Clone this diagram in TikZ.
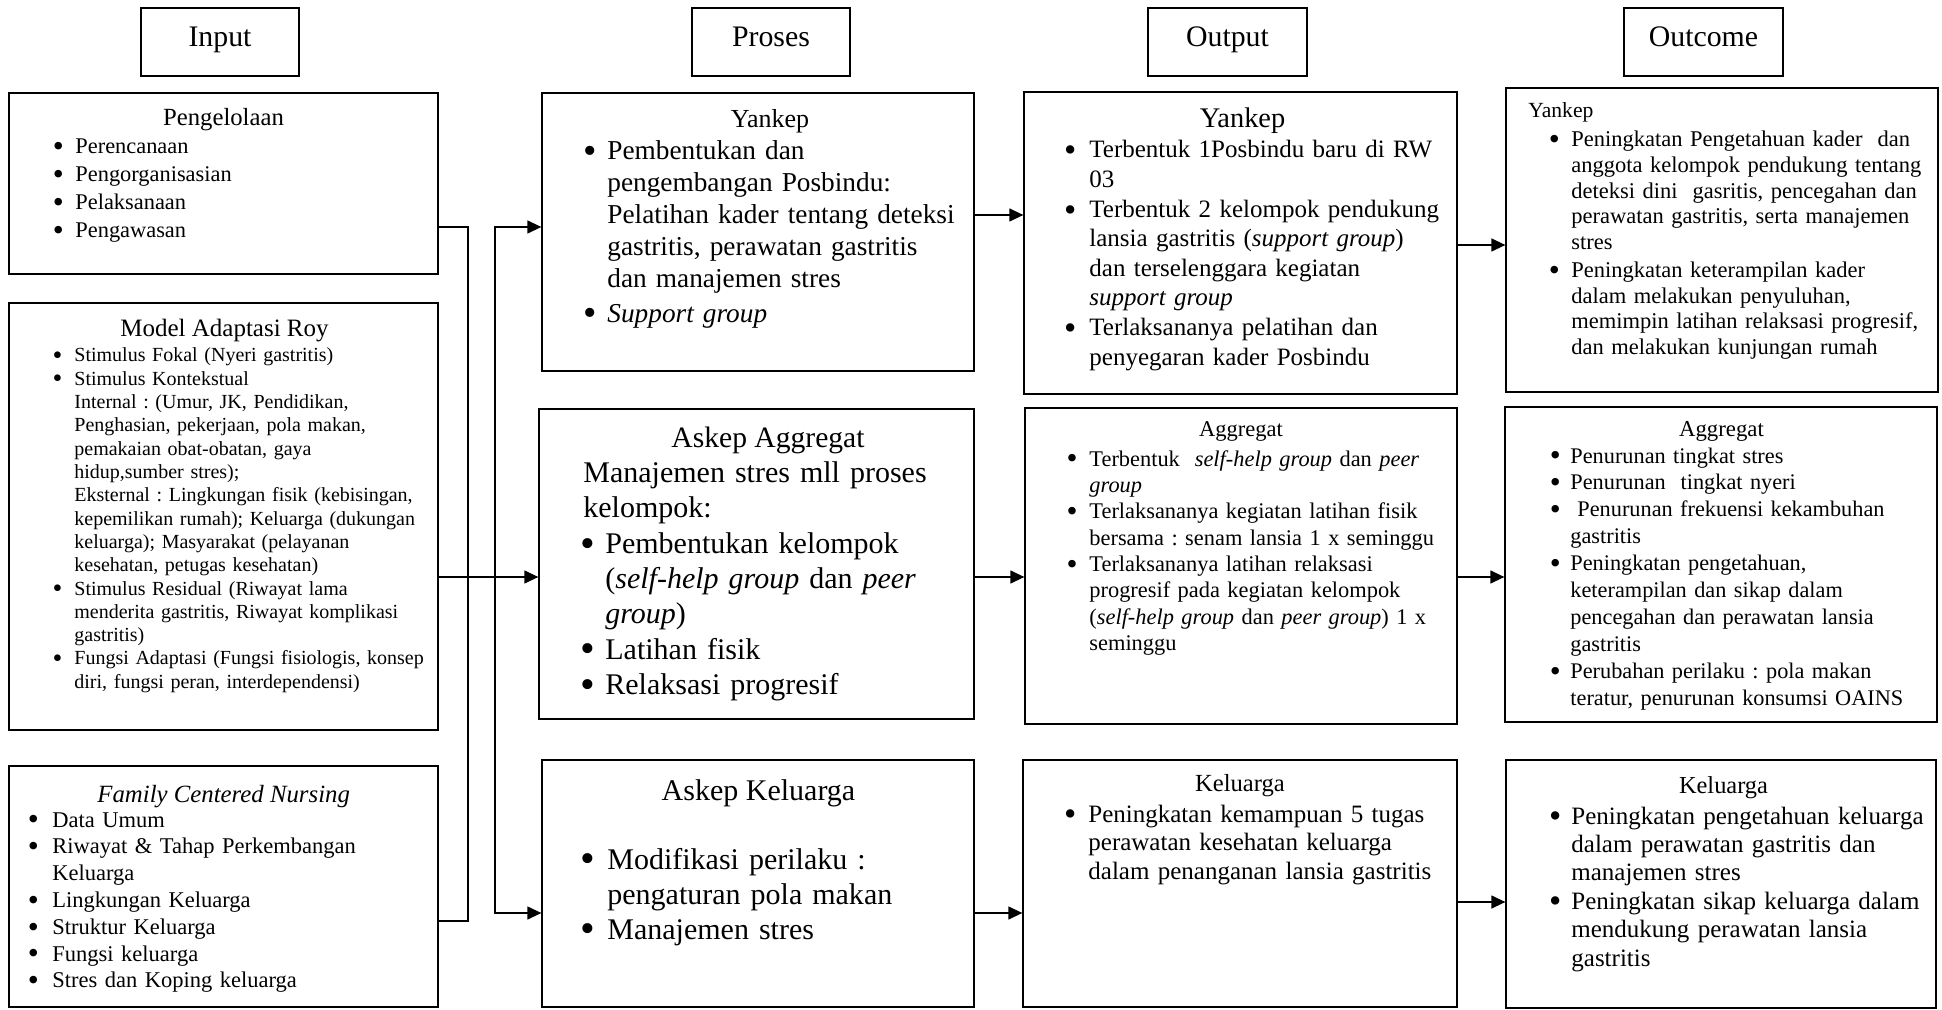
\documentclass[tikz,border=0pt]{standalone}
\usepackage{fontspec}
\usepackage{graphicx}
\setmainfont{Liberation Serif}
\usetikzlibrary{arrows.meta,fit}

\newcommand{\setfs}[2]{\fontsize{#1}{#2}\selectfont}
% bullet items: \bset{label sep}{item sep}, then \itm before each item
\newlength{\bulsep}
\newcommand{\bset}[2]{\setlength{\bulsep}{#1}\setlength{\parskip}{#2}}
\newcommand{\itm}{\leavevmode\llap{\raisebox{-0.13em}{\scalebox{1.4}{\textbullet}}\hspace{\bulsep}}}
\frenchspacing

\begin{document}
\begin{tikzpicture}[x=0.5pt,y=-0.5pt,
  box/.style={draw,line width=0.65pt,inner sep=0pt},
  ttl/.style={inner sep=0pt,anchor=base},
  body/.style={inner sep=0pt,anchor=base west,text width=220pt,align=left},
  link/.style={line width=0.65pt,line cap=rect},
  arr/.style={line width=0.65pt,-{Triangle[length=7pt,width=6.5pt]}}]
\useasboundingbox (0,0) rectangle (1942,1010);

% column headers
\foreach \nm/\xa/\xb/\lbl in {hin/141/299/Input,hpr/692/850/Proses,hout/1148/1307/Output,hoc/1624/1783/Outcome}{
  \node[box,fit={(\xa,8) (\xb,76)}] (\nm) {};
  \node[ttl,font=\setfs{14.9}{17}] (\nm-t) at ({(\xa+\xb)/2},47) {\lbl};
}

% input
\node[box,fit={(9,93) (438,274)}] (pgl) {};
\node[ttl,font=\setfs{12.35}{14}] (pgl-t) at (223.5,126) {Pengelolaan};
\node[body,font=\setfs{11.2}{13.85}] (pgl-b) at (75,154) {\bset{5.8pt}{0pt}%
  \itm Perencanaan\par
  \itm Pengorganisasian\par
  \itm Pelaksanaan\par
  \itm Pengawasan};

\node[box,fit={(9,303) (438,730)}] (roy) {};
\node[ttl,font=\setfs{12.5}{14}] (roy-t) at (224.5,336) {Model Adaptasi Roy};
\node[body,font=\setfs{10}{11.65}] (roy-b) at (74,362) {\bset{6pt}{0pt}%
  \itm Stimulus Fokal (Nyeri gastritis)\par
  \itm Stimulus Kontekstual\\ Internal : (Umur, JK, Pendidikan,\\ Penghasian, pekerjaan, pola makan,\\
    pemakaian obat-obatan, gaya\\ hidup,sumber stres);\\ Eksternal : Lingkungan fisik (kebisingan,\\
    kepemilikan rumah); Keluarga (dukungan\\ keluarga); Masyarakat (pelayanan\\ kesehatan, petugas kesehatan)\par
  \itm Stimulus Residual (Riwayat lama\\ menderita gastritis, Riwayat komplikasi\\ gastritis)\par
  \itm Fungsi Adaptasi (Fungsi fisiologis, konsep\\ diri, fungsi peran, interdependensi)};

\node[box,fit={(9,766) (438,1007)}] (fcn) {};
\node[ttl,font=\setfs{12.4}{14}\itshape] (fcn-t) at (223.7,802) {Family Centered Nursing};
\node[body,font=\setfs{11.25}{13.4}] (fcn-b) at (52,827) {\bset{6.8pt}{0pt}%
  \itm Data Umum\par
  \itm Riwayat \& Tahap Perkembangan\\ Keluarga\par
  \itm Lingkungan Keluarga\par
  \itm Struktur Keluarga\par
  \itm Fungsi keluarga\par
  \itm Stres dan Koping keluarga};

% proses
\node[box,fit={(542,93) (974,371)}] (pyk) {};
\node[ttl,font=\setfs{13}{15}] (pyk-t) at (770,128) {Yankep};
\node[body,font=\setfs{13.65}{15.9}] (pyk-b) at (607,160) {\bset{5.3pt}{1.6pt}%
  \itm Pembentukan dan\\ pengembangan Posbindu:\\ Pelatihan kader tentang deteksi\\ gastritis, perawatan gastritis\\ dan manajemen stres\par
  \itm \textit{Support group}};

\node[box,fit={(539,409) (974,719)}] (pag) {};
\node[ttl,font=\setfs{14.8}{17}] (pag-t) at (768,447) {Askep Aggregat};
\node[body,font=\setfs{15}{17.65}] (pag-b) at (605,482.5) {\bset{5pt}{0pt}%
  {\leftskip=-11pt Manajemen stres mll proses\\ kelompok:\par}
  \itm Pembentukan kelompok\\ (\textit{self-help group} dan \textit{peer}\\ \textit{group})\par
  \itm Latihan fisik\par
  \itm Relaksasi progresif};

\node[box,fit={(542,760) (974,1007)}] (pkl) {};
\node[ttl,font=\setfs{15}{17}] (pkl-t) at (758.5,800) {Askep Keluarga};
\node[body,font=\setfs{15}{17.5}] (pkl-b) at (607,869) {\bset{6pt}{0pt}%
  \itm Modifikasi perilaku :\\ pengaturan pola makan\par
  \itm Manajemen stres};

% output
\node[box,fit={(1024,92) (1457,394)}] (oyk) {};
\node[ttl,font=\setfs{14.2}{16}] (oyk-t) at (1242.5,128) {Yankep};
\node[body,font=\setfs{12.5}{14.6}] (oyk-b) at (1089,158) {\bset{6.5pt}{0.7pt}%
  \itm Terbentuk 1Posbindu baru di RW\\ 03\par
  \itm Terbentuk 2 kelompok pendukung\\ lansia gastritis (\textit{support group})\\ dan terselenggara kegiatan\\ \textit{support group}\par
  \itm Terlaksananya pelatihan dan\\ penyegaran kader Posbindu};

\node[box,fit={(1025,408) (1457,724)}] (oag) {};
\node[ttl,font=\setfs{11.25}{13}] (oag-t) at (1241,437) {Aggregat};
\node[body,font=\setfs{11.2}{13.2}] (oag-b) at (1089,466) {\bset{5.9pt}{0pt}%
  \itm Terbentuk\ \ \textit{self-help group} dan \textit{peer}\\ \textit{group}\par
  \itm Terlaksananya kegiatan latihan fisik\\ bersama : senam lansia 1 x seminggu\par
  \itm Terlaksananya latihan relaksasi\\ progresif pada kegiatan kelompok\\ (\textit{self-help group} dan \textit{peer group}) 1 x\\ seminggu};

\node[box,fit={(1023,760) (1457,1007)}] (okl) {};
\node[ttl,font=\setfs{12.3}{14}] (okl-t) at (1240,791) {Keluarga};
\node[body,font=\setfs{12.5}{14.25}] (okl-b) at (1088,822) {\bset{6pt}{0pt}%
  \itm Peningkatan kemampuan 5 tugas\\ perawatan kesehatan keluarga\\ dalam penanganan lansia gastritis};

% outcome
\node[box,fit={(1506,88) (1938,392)}] (cyk) {};
\node[ttl,anchor=base west,font=\setfs{10.8}{12}] (cyk-t) at (1528,118) {Yankep};
\node[body,font=\setfs{11.25}{12.8}] (cyk-b) at (1571,147) {\bset{5.8pt}{1.3pt}%
  \itm Peningkatan Pengetahuan kader\ \ dan\\ anggota kelompok pendukung tentang\\ deteksi dini\ \ gasritis, pencegahan dan\\ perawatan gastritis, serta manajemen\\ stres\par
  \itm Peningkatan keterampilan kader\\ dalam melakukan penyuluhan,\\ memimpin latihan relaksasi progresif,\\ dan melakukan kunjungan rumah};

\node[box,fit={(1505,407) (1937,722)}] (cag) {};
\node[ttl,font=\setfs{11.4}{13}] (cag-t) at (1721.5,437) {Aggregat};
\node[body,font=\setfs{11.15}{13.45}] (cag-b) at (1570,463) {\bset{4.8pt}{0pt}%
  \itm Penurunan tingkat stres\par
  \itm Penurunan\ \ tingkat nyeri\par
  \itm \hspace*{3.5pt}Penurunan frekuensi kekambuhan\\ gastritis\par
  \itm Peningkatan pengetahuan,\\ keterampilan dan sikap dalam\\ pencegahan dan perawatan lansia\\ gastritis\par
  \itm Perubahan perilaku : pola makan\\ teratur, penurunan konsumsi OAINS};

\node[box,fit={(1506,760) (1936,1008)}] (ckl) {};
\node[ttl,font=\setfs{12.2}{14}] (ckl-t) at (1723.5,793) {Keluarga};
\node[body,font=\setfs{12.5}{14.2}] (ckl-b) at (1571,824) {\bset{5pt}{0pt}%
  \itm Peningkatan pengetahuan keluarga\\ dalam perawatan gastritis dan\\ manajemen stres\par
  \itm Peningkatan sikap keluarga dalam\\ mendukung perawatan lansia\\ gastritis};

% input lines into proses
\coordinate (ja) at (468,227); \coordinate (jb) at (468,577); \coordinate (jc) at (468,921);
\coordinate (ka) at (495,227); \coordinate (kb) at (495,577); \coordinate (kc) at (495,913);
\draw[link] (pgl.east |- ja) -- (ja) -- (jc) -- (fcn.east |- jc);
\draw[link] (roy.east |- jb) -- (kb);
\draw[link] (ka) -- (kc);
\draw[arr] (ka) -- (pyk.west |- ka);
\draw[arr] (kb) -- (pag.west |- kb);
\draw[arr] (kc) -- (pkl.west |- kc);

% proses -> output -> outcome
\coordinate (ra) at (0,215); \coordinate (rb) at (0,245); \coordinate (rc) at (0,577);
\coordinate (rd) at (0,913); \coordinate (re) at (0,902);
\draw[arr] (pyk.east |- ra) -- (oyk.west |- ra);
\draw[arr] (oyk.east |- rb) -- (cyk.west |- rb);
\draw[arr] (pag.east |- rc) -- (oag.west |- rc);
\draw[arr] (oag.east |- rc) -- (cag.west |- rc);
\draw[arr] (pkl.east |- rd) -- (okl.west |- rd);
\draw[arr] (okl.east |- re) -- (ckl.west |- re);
\end{tikzpicture}
\end{document}
